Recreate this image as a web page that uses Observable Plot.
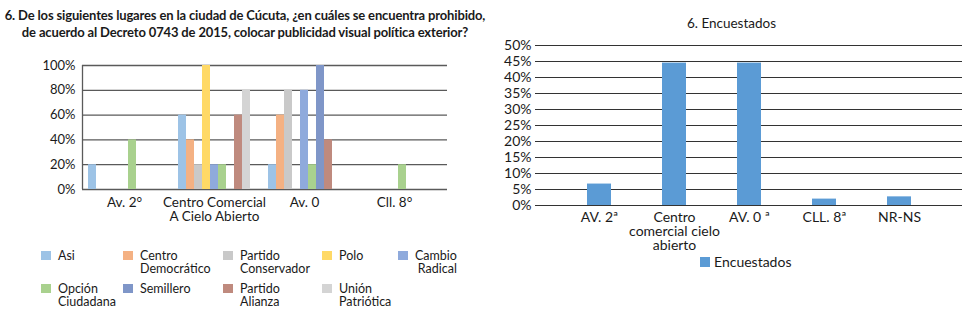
<!DOCTYPE html>
<html>
<head>
<meta charset="utf-8">
<script src="https://cdn.jsdelivr.net/npm/d3@7"></script>
<script src="https://cdn.jsdelivr.net/npm/@observablehq/plot@0.6"></script>
<style>
  html, body { margin: 0; padding: 0; background: #fff; }
  #page { position: relative; width: 973px; height: 319px; overflow: hidden; font-family: Lato, "Open Sans", sans-serif; color: #1a1a1a; }
  .abs { position: absolute; }
  .title-left { left: 0; top: 7px; width: 490px; text-align: center; font-weight: bold; font-size: 13px; line-height: 17px; letter-spacing: -0.15px; }
  .title-right { left: 490px; top: 15px; width: 483px; text-align: center; font-size: 13.5px; }
  .sw { width: 10px; height: 9px; }
  .lg { font-size: 12.5px; line-height: 13px; }
  svg { overflow: visible; }
</style>
</head>
<body>
<div id="page">
  <div class="abs title-left">6. De los siguientes lugares en la ciudad de Cúcuta, ¿en cuáles se encuentra prohibido,<br>de acuerdo al Decreto 0743 de 2015, colocar publicidad visual política exterior?</div>
  <div class="abs title-right">6. Encuestados</div>
  <div id="leftGrid" class="abs" style="left:0;top:55px;"></div>
  <div id="leftBars" class="abs" style="left:0;top:55px;"></div>
  <div id="leftLegend"></div>
  <div id="right" class="abs" style="left:490px;top:35px;"></div>
  <div id="rightLegend"></div>
</div>
<script>
// ---- Left chart data ----
const leftPlaces = ["Av. 2°", "Centro Comercial\nA Cielo Abierto", "Av. 0", "Cll. 8°"];
const parties = ["Asi", "Centro Democrático", "Partido Conservador", "Polo", "Cambio Radical",
                 "Opción Ciudadana", "Semillero", "Partido Alianza", "Unión Patriótica"];
const partyColors = ["#9DC3E6", "#F4B183", "#C9C9C9", "#FFD966", "#8FAADC",
                     "#A9D18E", "#7F96C8", "#BF8A7E", "#D4D4D4"];
const av2Values    = [20, 0, 0, 0, 0, 40, 0, 0, 0];
const centroValues = [60, 40, 20, 100, 20, 20, 0, 60, 80];
const av0Values    = [20, 60, 80, 0, 80, 20, 100, 40, 0];
const cll8Values   = [0, 0, 0, 0, 0, 20, 0, 0, 0];
const leftYTicks = [0, 20, 40, 60, 80, 100];

// ---- Right chart data ----
const rightPlaces = ["AV. 2ª", "Centro\ncomercial cielo\nabierto", "AV. 0 ª", "CLL. 8ª", "NR-NS"];
const encuestados = [6.7, 44.5, 44.5, 2.0, 2.7];
const rightYTicks = [0, 5, 10, 15, 20, 25, 30, 35, 40, 45, 50];
const rightSeries = "Encuestados";
const rightColor = "#5B9BD5";

const pct = d => d + "%";
const font = {fontFamily: "Lato, 'Open Sans', sans-serif", fontSize: "13px", background: "transparent", color: "#1a1a1a"};

// rows for grouped bars
const leftSeries = [av2Values, centroValues, av0Values, cll8Values];
const rows = [];
leftPlaces.forEach((place, i) => parties.forEach((party, j) => rows.push({place, party, value: leftSeries[i][j]})));

const L = {width: 480, height: 170, marginLeft: 82, marginRight: 33, marginTop: 10, marginBottom: 36};

const gridPlot = Plot.plot({
  ...L,
  style: font,
  x: {domain: [0, 1], axis: null},
  y: {domain: [0, 100], axis: null},
  marks: [
    Plot.gridY(leftYTicks, {stroke: "#5a5a5a", strokeOpacity: 1, strokeWidth: 1.3}),
    Plot.axisY(leftYTicks, {tickSize: 0, tickPadding: 7, tickFormat: pct, fontSize: 13, label: null}),
    Plot.ruleX([0], {stroke: "#5a5a5a", strokeWidth: 1.3})
  ]
});
document.getElementById("leftGrid").appendChild(gridPlot);

const barsPlot = Plot.plot({
  ...L,
  style: {...font, fontSize: "13.5px"},
  fx: {domain: leftPlaces, paddingInner: 0.13, paddingOuter: 0.09, align: 0.2, label: null, axis: "bottom", tickSize: 0, tickPadding: 8},
  x: {domain: parties, padding: 0, axis: null},
  y: {domain: [0, 100], axis: null},
  color: {domain: parties, range: partyColors},
  marks: [
    Plot.barY(rows, {fx: "place", x: "party", y: "value", fill: "party"})
  ]
});
document.getElementById("leftBars").appendChild(barsPlot);

// left legend (HTML)
const legCols = [41, 123, 223, 322, 398];
const legRows = [251, 284];
const leftLegend = document.getElementById("leftLegend");
parties.forEach((p, i) => {
  const col = i % 5, row = Math.floor(i / 5);
  const sw = document.createElement("div");
  sw.className = "abs sw";
  sw.style.left = legCols[col] + "px";
  sw.style.top = legRows[row] + "px";
  sw.style.background = partyColors[i];
  leftLegend.appendChild(sw);
  const t = document.createElement("div");
  t.className = "abs lg";
  t.style.left = (legCols[col] + 17) + "px";
  t.style.top = (legRows[row] - 2) + "px";
  t.innerHTML = p.replace(" ", "<br>");
  if (p === "Cambio Radical") t.style.textAlign = "right";
  leftLegend.appendChild(t);
});

// ---- Right chart ----
const rightRows = rightPlaces.map((place, i) => ({place, value: encuestados[i]}));
const rightPlot = Plot.plot({
  width: 483, height: 215, marginLeft: 45, marginRight: 11, marginTop: 10, marginBottom: 45,
  style: {...font, fontSize: "14px"},
  x: {domain: rightPlaces, padding: 0.68, label: null, tickSize: 0, tickPadding: 7},
  y: {domain: [0, 50], axis: null},
  marks: [
    Plot.gridY(rightYTicks, {stroke: "#333", strokeOpacity: 1, strokeWidth: 1.2}),
    Plot.axisY(rightYTicks, {tickSize: 0, tickPadding: 4, tickFormat: pct, fontSize: 14, label: null}),
    Plot.barY(rightRows, {x: "place", y: "value", fill: rightColor}),
    Plot.ruleY([0], {stroke: "#333", strokeWidth: 1.2})
  ]
});
document.getElementById("right").appendChild(rightPlot);

const rl = document.getElementById("rightLegend");
rl.innerHTML = `<div class="abs" style="left:700px;top:257px;width:10px;height:10px;background:${rightColor}"></div>
<div class="abs" style="left:714px;top:253px;font-size:14px;">${rightSeries}</div>`;
</script>
</body>
</html>
